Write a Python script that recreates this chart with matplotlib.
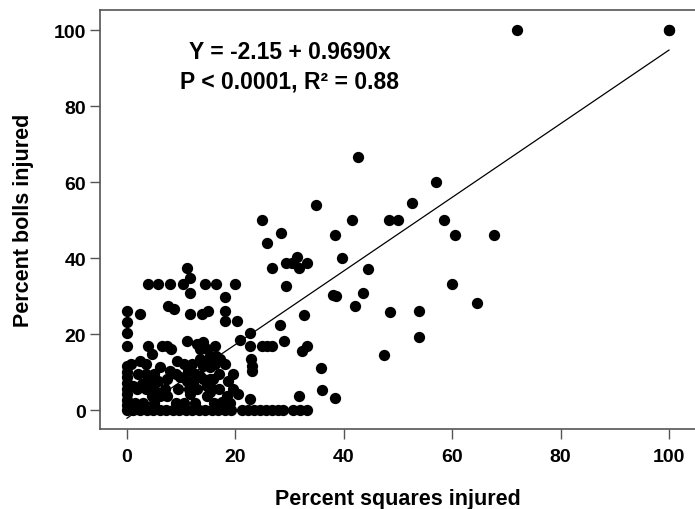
import matplotlib
matplotlib.use("Agg")
import matplotlib.pyplot as plt

# percent squares injured (x) / percent bolls injured (y)
squares_pct = [
    72, 100, 100, 42.6, 57.1, 52.6, 34.8,
    25.0, 41.6, 48.4, 50.0, 58.5,
    28.5, 38.4, 60.6, 67.7, 25.9, 39.6, 31.4,
    29.3, 30.4, 33.3, 31.7, 26.8, 44.4, 60.0, 29.4,
    43.5, 38.0, 38.6, 64.5, 42.1, 48.5, 53.9, 32.7,
    28.2, 22.7, 20.8, 29.0, 53.9,
    22.7, 24.9, 25.8, 26.7, 33.2, 32.2, 47.4,
    22.9, 23.0, 23.0, 35.8, 36.0, 38.4, 31.8, 20.5, 22.7,
    21.2, 22.3, 23.4, 24.5, 25.6, 26.7, 27.8, 28.8, 30.6, 31.9, 33.3,
    # left cluster
    11.0, 3.9, 5.8, 7.9, 10.4, 11.6, 14.4, 16.5, 19.9,
    11.6, 18.1, 7.6, 8.7, 11.6, 13.8, 15.0, 18.1, 18.1, 20.3, 2.4,
    0, 0, 0, 0,
    3.9, 6.4, 7.3, 8.2, 11.0, 12.9, 13.5, 16.2, 14.1, 14.7, 15.3,
    4.6, 2.4, 9.2, 6.1, 7.9, 11.3, 13.5, 14.1, 15.3, 15.9, 16.5, 17.2, 16.2, 18.7,
    0, 0, 0, 0, 0, 0, 0, 0, 0,
    1.2, 1.8, 2.7, 3.9, 5.8, 7.3, 9.8, 11.0, 12.2,
    4.6, 6.1, 7.3, 11.6, 14.7, 15.3, 15.9, 9.5, 14.1, 13.5, 14.1, 15.3, 14.7, 15.3,
    18.4, 17.5,
    1.2, 2.4, 3.6, 4.8, 6.0, 7.2, 8.4, 9.6, 10.8, 12.0, 13.2, 14.4, 15.6, 16.8, 18.0, 19.1,
    1.5, 3.0, 5.0, 9.0, 10.5, 12.5, 16.0, 19.0,
    3.5, 5.0, 7.0, 11.5, 13.0, 17.0, 19.5,
    2.0, 3.5, 5.0, 9.0, 12.5, 17.0, 19.5,
    0.8, 3.5, 10.5, 12.0, 18.0,
]
bolls_pct = [
    100, 100, 100, 66.7, 60.0, 54.6, 53.9,
    50.0, 50.0, 50.0, 50.0, 50.0,
    46.7, 46.2, 46.2, 46.2, 43.9, 40.0, 40.2,
    38.6, 38.6, 38.6, 37.5, 37.5, 37.0, 33.3, 32.7,
    30.9, 30.3, 29.9, 28.2, 27.4, 25.7, 26.1, 25.1,
    22.5, 20.3, 18.3, 18.2, 19.3,
    16.9, 16.9, 16.9, 16.9, 16.9, 15.5, 14.4,
    13.5, 11.7, 10.3, 11.1, 5.3, 3.2, 3.8, 4.3, 2.9,
    0, 0, 0, 0, 0, 0, 0, 0, 0, 0, 0,
    # left cluster
    37.5, 33.3, 33.3, 33.3, 33.3, 34.7, 33.3, 33.3, 33.3,
    30.8, 29.8, 27.4, 26.6, 25.2, 25.2, 26.1, 26.1, 23.5, 23.3, 25.2,
    26.1, 23.2, 20.2, 16.9,
    16.9, 16.9, 16.9, 16.1, 18.2, 17.4, 16.1, 16.9, 17.8, 16.1, 14.3,
    14.7, 13.0, 13.0, 11.2, 10.3, 10.3, 13.4, 12.1, 11.2, 13.0, 14.3, 13.4, 12.1, 7.7,
    11.6, 10.1, 8.6, 7.1, 5.6, 4.1, 2.6, 1.2, 0,
    6.4, 5.5, 6.8, 7.3, 7.7, 8.2, 8.6, 7.7, 7.3,
    3.8, 3.8, 3.8, 4.2, 3.8, 6.4, 8.2, 5.5, 8.2, 9.0, 11.7, 8.2, 6.4, 4.7,
    3.8, 2.0,
    0, 0, 0, 0, 0, 0, 0, 0, 0, 0, 0, 0, 0, 0, 0, 0,
    1.8, 1.8, 1.8, 1.8, 1.8, 1.8, 1.8, 1.8,
    5.5, 5.5, 5.5, 5.5, 5.5, 5.5, 5.5,
    9.5, 9.5, 9.5, 9.5, 9.5, 9.5, 9.5,
    12.0, 12.0, 12.0, 12.0, 12.0,
]

intercept = -2.15
slope = 0.9690
line_x = [0, 100]
line_y = [intercept + slope * v for v in line_x]

plt.rcParams['font.family'] = ['Liberation Sans', 'DejaVu Sans']
plt.rcParams['font.weight'] = 'bold'

fig = plt.figure(figsize=(6.95, 5.10), dpi=100)
ax = fig.add_axes([100/695, 80/510, 595/695, 419/510])

ax.scatter(squares_pct, bolls_pct, s=66, c='black', linewidths=0, zorder=2)
ax.plot(line_x, line_y, color='black', lw=0.9, zorder=3)

ax.set_xlim(-4.98, 104.8)
ax.set_ylim(-5.0, 105.3)
ax.set_xticks([0, 20, 40, 60, 80, 100])
ax.set_yticks([0, 20, 40, 60, 80, 100])

for side in ['left', 'bottom', 'top']:
    ax.spines[side].set_color('#555555')
    ax.spines[side].set_linewidth(1.2)
ax.spines['right'].set_visible(False)
ax.tick_params(direction='out', length=7, width=1, color='#555555', labelsize=14)
ax.tick_params(axis='x', pad=7)
ax.tick_params(axis='y', pad=3)
for lab in ax.get_xticklabels() + ax.get_yticklabels():
    lab.set_fontweight('bold')

ax.set_xlabel('Percent squares injured', fontsize=15.5, fontweight='bold', labelpad=16)
ax.set_ylabel('Percent bolls injured', fontsize=15.5, fontweight='bold', labelpad=14)

ax.text(30.0, 94.5, 'Y = -2.15 + 0.9690x', fontsize=16.5, fontweight='bold',
        ha='center', va='center')
ax.text(30.0, 86.7, 'P < 0.0001, R\u00b2 = 0.88', fontsize=16.5, fontweight='bold',
        ha='center', va='center')

fig.savefig('out.png', dpi=100)
